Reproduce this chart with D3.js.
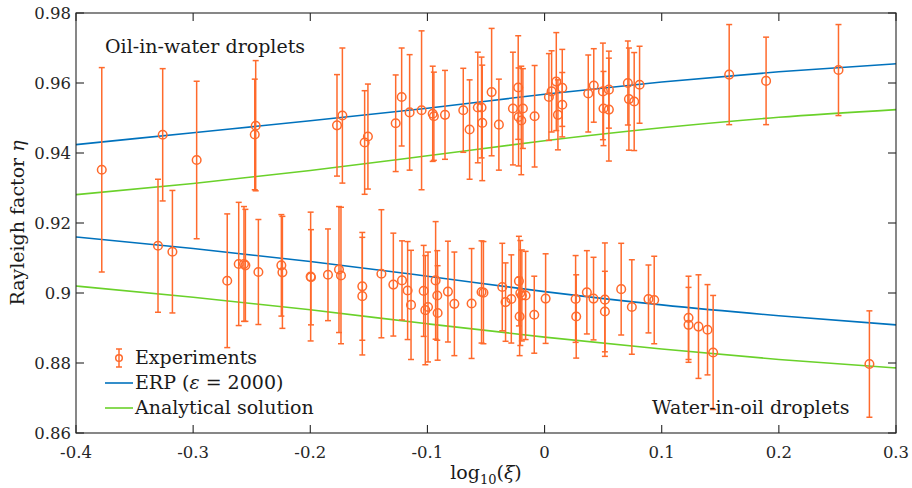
<!DOCTYPE html>
<html><head><meta charset="utf-8">
<script src="https://cdn.jsdelivr.net/npm/d3@7"></script>
<style>
html,body{margin:0;padding:0;background:#fff;}
svg{display:block;}
text{font-family:"DejaVu Serif",serif;fill:#1a1a1a;}
</style></head>
<body>
<svg id="chart" width="912" height="488"></svg>
<script>
// ---- data ----
const xTicks = [-0.4,-0.3,-0.2,-0.1,0,0.1,0.2,0.3];
const xTickLabels = ["-0.4","-0.3","-0.2","-0.1","0","0.1","0.2","0.3"];
const yTicks = [0.86,0.88,0.90,0.92,0.94,0.96,0.98];
const yTickLabels = ["0.86","0.88","0.9","0.92","0.94","0.96","0.98"];

// Oil-in-water droplets (upper cloud)
const oilX = [-0.378,-0.326,-0.297,-0.2466,-0.2474,-0.1772,-0.1726,-0.1536,-0.1508,-0.1271,-0.122,-0.1152,-0.105,-0.0955,-0.0945,-0.085,-0.0694,-0.064,-0.057,-0.0538,-0.0532,-0.0452,-0.039,-0.027,-0.0225,-0.0222,-0.0199,-0.0185,-0.0085,0.0037,0.006,0.01,0.0114,0.0151,0.0151,0.0373,0.042,0.0498,0.0503,0.0549,0.0549,0.0711,0.072,0.0765,0.0811,0.1576,0.1891,0.2509];
const oilY = [0.9352,0.9452,0.938,0.9478,0.9453,0.9479,0.9507,0.943,0.9447,0.9485,0.956,0.9516,0.9522,0.9512,0.9505,0.9509,0.9522,0.9467,0.953,0.953,0.9486,0.9574,0.9481,0.9527,0.9587,0.9503,0.9493,0.9527,0.9505,0.956,0.9576,0.9604,0.9509,0.9586,0.9538,0.957,0.9593,0.9576,0.9527,0.9581,0.9524,0.96,0.9554,0.9547,0.9595,0.9624,0.9606,0.9637];
const oilErr = [0.0292,0.0189,0.0225,0.0186,0.0158,0.0145,0.0193,0.0148,0.015,0.0138,0.014,0.0165,0.0227,0.0136,0.0126,0.0127,0.012,0.0142,0.0158,0.0144,0.0165,0.0182,0.013,0.0161,0.0148,0.014,0.0155,0.0114,0.0145,0.0124,0.0116,0.014,0.01,0.011,0.0092,0.011,0.0105,0.0138,0.0106,0.011,0.0147,0.012,0.0146,0.014,0.011,0.0143,0.0125,0.013];

// Water-in-oil droplets (lower cloud)
const waterX = [-0.33,-0.3177,-0.2709,-0.2611,-0.2566,-0.2554,-0.2443,-0.2247,-0.2238,-0.1997,-0.1994,-0.1849,-0.1755,-0.1738,-0.1556,-0.1556,-0.1393,-0.1291,-0.1217,-0.1169,-0.114,-0.1032,-0.1018,-0.0995,-0.093,-0.0916,-0.0913,-0.0825,-0.077,-0.0623,-0.0538,-0.0522,-0.0361,-0.0333,-0.0284,-0.0219,-0.0213,-0.0207,-0.0194,-0.0162,-0.0088,0.0009,0.0265,0.027,0.0361,0.0418,0.0515,0.0515,0.0654,0.0745,0.0887,0.0936,0.1229,0.1229,0.1314,0.1391,0.1439,0.2773];
const waterY = [0.9135,0.9118,0.9035,0.9083,0.9083,0.9079,0.906,0.9079,0.9059,0.9047,0.9045,0.9052,0.9067,0.905,0.9019,0.8991,0.9055,0.9024,0.9036,0.9007,0.8966,0.9006,0.8951,0.896,0.9036,0.8993,0.8943,0.9004,0.8969,0.897,0.9003,0.9001,0.9017,0.8974,0.8983,0.9034,0.8933,0.9,0.8993,0.8993,0.8938,0.8984,0.8983,0.8933,0.9002,0.8984,0.8981,0.8947,0.9011,0.896,0.8983,0.898,0.8929,0.8909,0.8904,0.8895,0.883,0.8797];
const waterErr = [0.019,0.0175,0.0191,0.0176,0.0164,0.016,0.015,0.0145,0.016,0.0184,0.0136,0.0131,0.018,0.0195,0.0154,0.0168,0.0183,0.0147,0.0113,0.014,0.0156,0.013,0.0156,0.0157,0.0168,0.0128,0.0135,0.0144,0.0148,0.0157,0.0146,0.0146,0.0125,0.0112,0.0126,0.0128,0.0112,0.015,0.013,0.0126,0.011,0.0128,0.0124,0.0119,0.0119,0.0118,0.0162,0.0115,0.0131,0.0135,0.0097,0.0125,0.0119,0.0107,0.0148,0.0129,0.0163,0.0152];

// Model curves sampled at these x values
const curveX = [-0.4,-0.3,-0.2,-0.1,0,0.1,0.2,0.3];
const erpOil = [0.9424,0.9458,0.9492,0.9528,0.9568,0.9603,0.9632,0.9655];
const anaOil = [0.9281,0.9313,0.9350,0.9392,0.9435,0.9472,0.9502,0.9524];
const erpWater = [0.9160,0.9127,0.9090,0.9048,0.9004,0.8966,0.8935,0.8909];
const anaWater = [0.9020,0.8988,0.8952,0.8912,0.8874,0.8840,0.8810,0.8786];

const legendLabels = ["Experiments","ERP","Analytical solution"];

// ---- styles ----
const C_EXP = "#ff6a2c", C_ERP = "#0072bd", C_ANA = "#6ad12a", C_AX = "#262626";
const FS = 19, TFS = 16.5;

const svg = d3.select("#chart");
const M = {left:76, right:16, top:13, bottom:55};
const W = 912 - M.left - M.right, H = 488 - M.top - M.bottom;
const g = svg.append("g").attr("transform",`translate(${M.left},${M.top})`);

const x = d3.scaleLinear().domain([-0.4,0.3]).range([0,W]);
const y = d3.scaleLinear().domain([0.86,0.98]).range([H,0]);

// curves
const line = d3.line().x(d=>x(d[0])).y(d=>y(d[1])).curve(d3.curveMonotoneX);
function drawCurve(vals,color){
  g.append("path").datum(curveX.map((v,i)=>[v,vals[i]]))
   .attr("d",line).attr("fill","none").attr("stroke",color).attr("stroke-width",1.6);
}
drawCurve(erpOil,C_ERP); drawCurve(anaOil,C_ANA);
drawCurve(erpWater,C_ERP); drawCurve(anaWater,C_ANA);

// error bars
function drawSeries(xs,ys,es){
  const pts = xs.map((v,i)=>({x:v,y:ys[i],e:es[i]}));
  const gg = g.append("g").attr("stroke",C_EXP).attr("fill","none").attr("stroke-width",1.5);
  pts.forEach(p=>{
    const cx = x(p.x), t = y(p.y+p.e), b = y(p.y-p.e);
    gg.append("line").attr("x1",cx).attr("x2",cx).attr("y1",t).attr("y2",b);
    gg.append("line").attr("x1",cx-3).attr("x2",cx+3).attr("y1",t).attr("y2",t);
    gg.append("line").attr("x1",cx-3).attr("x2",cx+3).attr("y1",b).attr("y2",b);
    gg.append("circle").attr("cx",cx).attr("cy",y(p.y)).attr("r",4.3);
  });
}
drawSeries(oilX,oilY,oilErr);
drawSeries(waterX,waterY,waterErr);

// axes box
const ax = g.append("g").attr("stroke",C_AX).attr("stroke-width",1.1).attr("fill","none");
ax.append("rect").attr("x",0).attr("y",0).attr("width",W).attr("height",H);
const TL = 8;
xTicks.forEach(v=>{
  ax.append("line").attr("x1",x(v)).attr("x2",x(v)).attr("y1",H).attr("y2",H-TL);
  ax.append("line").attr("x1",x(v)).attr("x2",x(v)).attr("y1",0).attr("y2",TL);
});
yTicks.forEach(v=>{
  ax.append("line").attr("x1",0).attr("x2",TL).attr("y1",y(v)).attr("y2",y(v));
  ax.append("line").attr("x1",W).attr("x2",W-TL).attr("y1",y(v)).attr("y2",y(v));
});
xTicks.forEach((v,i)=>{
  g.append("text").attr("x",x(v)).attr("y",H+25).attr("text-anchor","middle")
   .attr("font-size",TFS).style("fill","#262626").text(xTickLabels[i]);
});
yTicks.forEach((v,i)=>{
  g.append("text").attr("x",-5).attr("y",y(v)+6).attr("text-anchor","end")
   .attr("font-size",TFS).style("fill","#262626").text(yTickLabels[i]);
});

// axis labels
const xl = svg.append("text").attr("x",486).attr("y",479).attr("text-anchor","middle").attr("font-size",FS);
xl.append("tspan").text("log");
xl.append("tspan").attr("font-size",13).attr("dy",5).text("10");
xl.append("tspan").attr("dy",-5).text("(");
xl.append("tspan").attr("font-style","italic").text("ξ");
xl.append("tspan").text(")");

const yl = svg.append("text").attr("transform","translate(24,223) rotate(-90)").attr("text-anchor","middle").attr("font-size",FS);
yl.append("tspan").text("Rayleigh factor ");
yl.append("tspan").attr("font-style","italic").text("η");

// annotations
svg.append("text").attr("x",105).attr("y",53).attr("font-size",FS).text("Oil-in-water droplets");
svg.append("text").attr("x",652).attr("y",414).attr("font-size",FS).text("Water-in-oil droplets");

// legend
const lg = svg.append("g");
const ly = [358,383,408];
lg.append("line").attr("x1",119).attr("x2",119).attr("y1",349).attr("y2",367).attr("stroke",C_EXP).attr("stroke-width",1.5);
lg.append("line").attr("x1",116).attr("x2",122).attr("y1",349).attr("y2",349).attr("stroke",C_EXP).attr("stroke-width",1.5);
lg.append("line").attr("x1",116).attr("x2",122).attr("y1",367).attr("y2",367).attr("stroke",C_EXP).attr("stroke-width",1.5);
lg.append("circle").attr("cx",119).attr("cy",358).attr("r",3.3).attr("fill","none").attr("stroke",C_EXP).attr("stroke-width",1.5);
lg.append("line").attr("x1",105).attr("x2",133).attr("y1",ly[1]).attr("y2",ly[1]).attr("stroke",C_ERP).attr("stroke-width",1.6);
lg.append("line").attr("x1",105).attr("x2",133).attr("y1",ly[2]).attr("y2",ly[2]).attr("stroke",C_ANA).attr("stroke-width",1.6);
lg.append("text").attr("x",135).attr("y",ly[0]+6).attr("font-size",FS).text(legendLabels[0]);
const t2 = lg.append("text").attr("x",135).attr("y",ly[1]+6).attr("font-size",FS);
t2.append("tspan").text(legendLabels[1]+" (");
t2.append("tspan").attr("font-style","italic").text("ε");
t2.append("tspan").text(" = 2000)");
lg.append("text").attr("x",135).attr("y",ly[2]+6).attr("font-size",FS).text(legendLabels[2]);
</script>
</body></html>
